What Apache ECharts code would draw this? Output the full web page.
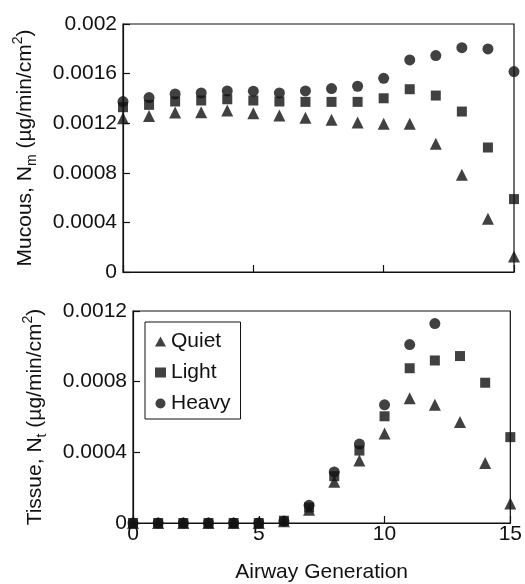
<!DOCTYPE html>
<html lang="en">

<head>
	<meta charset="UTF-8">
	<script src="https://cdn.jsdelivr.net/npm/echarts@6/dist/echarts.min.js"></script>
	<title>Airway deposition</title>
	<style>
		body { margin: 0; background: #fff; }
	</style>
</head>

<body>
	<div id="main" style="width: 525px;height:584px;"></div>

	<script>
		// airway generations 0..15
		var generations = [0, 1, 2, 3, 4, 5, 6, 7, 8, 9, 10, 11, 12, 13, 14, 15];

		// mucous flux N_m (µg/min/cm2)
		var mucousQuiet = [0.00124, 0.001259, 0.001286, 0.001289, 0.001302, 0.001281, 0.001262, 0.001243, 0.001227, 0.001205, 0.001195, 0.001195, 0.001034, 0.000784, 0.00043, 0.000126];
		var mucousLight = [0.001329, 0.001348, 0.001375, 0.001383, 0.001393, 0.001383, 0.001375, 0.001372, 0.001372, 0.001372, 0.001401, 0.001474, 0.001423, 0.001294, 0.001004, 0.000588];
		var mucousHeavy = [0.001374, 0.001407, 0.001436, 0.001444, 0.00146, 0.001458, 0.001444, 0.00146, 0.001479, 0.001498, 0.001562, 0.00171, 0.001745, 0.001809, 0.001799, 0.001616];

		// tissue flux N_t (µg/min/cm2); heavy is off scale after generation 12
		var tissueQuiet = [0, 0, 0, 0, 0, 0, 0.00001, 0.0000745, 0.000233, 0.000354, 0.000507, 0.000706, 0.000669, 0.000572, 0.000339, 0.00011];
		var tissueLight = [0, 0, 0, 0, 0, 0, 0.000013, 0.0000876, 0.000265, 0.00041, 0.000604, 0.000876, 0.00092, 0.000945, 0.000794, 0.000486];
		var tissueHeavy = [0, 0, 0, 0, 0, 0, 0.00001, 0.0001, 0.000289, 0.000447, 0.000669, 0.00101, 0.001129];

		var xTicks = [0, 5, 10, 15];
		var mucousTicks = [0, 0.0004, 0.0008, 0.0012, 0.0016, 0.002];
		var tissueTicks = [0, 0.0004, 0.0008, 0.0012];

		var seriesNames = ['Quiet', 'Light', 'Heavy'];
		var symbols = ['triangle', 'rect', 'circle'];

		var FONT = '"Liberation Sans", Arial, sans-serif';
		var INK = '#111';

		function pairs(values) {
			return values.map(function (v, i) { return [generations[i], v]; });
		}

		function fmt(v) {
			return v === 0 ? '0' : String(+v.toFixed(4));
		}

		var nameStyle = {
			fontFamily: FONT,
			fontSize: 21,
			color: INK,
			lineHeight: 28,
			rich: {
				sub: { fontFamily: FONT, fontSize: 14, lineHeight: 14, verticalAlign: 'bottom', color: INK },
				sup: { fontFamily: FONT, fontSize: 14, lineHeight: 14, verticalAlign: 'top', color: INK }
			}
		};

		function xAxis(gridIndex, showLabels) {
			return {
				type: 'value',
				gridIndex: gridIndex,
				min: xTicks[0],
				max: xTicks[xTicks.length - 1],
				interval: 5,
				name: showLabels ? 'Airway Generation' : '',
				nameLocation: 'middle',
				nameGap: 39,
				nameTextStyle: { fontFamily: FONT, fontSize: 21, color: INK },
				axisLine: { lineStyle: { color: INK, width: 1.2 } },
				axisTick: { inside: true, length: 7, lineStyle: { color: INK, width: 1.2 } },
				axisLabel: { show: showLabels, margin: 1, fontFamily: FONT, fontSize: 21, color: INK },
				splitLine: { show: false }
			};
		}

		function yAxis(gridIndex, ticks, name, gap) {
			return {
				type: 'value',
				gridIndex: gridIndex,
				min: ticks[0],
				max: ticks[ticks.length - 1],
				interval: 0.0004,
				name: name,
				nameLocation: 'middle',
				nameRotate: 90,
				nameGap: gap,
				nameTextStyle: nameStyle,
				axisLine: { lineStyle: { color: INK, width: 1.2 } },
				axisTick: { inside: true, length: 7, lineStyle: { color: INK, width: 1.2 } },
				axisLabel: { margin: 6, fontFamily: FONT, fontSize: 21, color: INK, formatter: fmt },
				splitLine: { show: false }
			};
		}

		function scatter(name, idx, values, symbol) {
			return {
				name: name,
				type: 'scatter',
				xAxisIndex: idx,
				yAxisIndex: idx,
				symbol: symbol,
				symbolSize: symbol === 'triangle' ? 12 : (symbol === 'rect' ? 10 : 11),
				itemStyle: { color: INK },
				data: pairs(values)
			};
		}

		var chart = echarts.init(document.getElementById('main'));

		chart.setOption({
			animation: false,
			backgroundColor: '#fff',
			grid: [
				{ left: 123, right: 11, top: 24, height: 248, show: true, borderColor: INK, borderWidth: 1.2 },
				{ left: 133, right: 11, top: 311, height: 216, show: true, borderColor: INK, borderWidth: 1.2 }
			],
			legend: {
				left: 145,
				top: 322,
				orient: 'vertical',
				itemGap: 10,
				itemWidth: 11,
				itemHeight: 10,
				padding: [9, 10, 5, 10],
				borderColor: INK,
				borderWidth: 1,
				textStyle: { fontFamily: FONT, fontSize: 21, color: INK },
				data: seriesNames.map(function (n, i) { return { name: n, icon: symbols[i] }; })
			},
			xAxis: [xAxis(0, false), xAxis(1, true)],
			yAxis: [
				yAxis(0, mucousTicks, 'Mucous, N{sub|m} (µg/min/cm{sup|2})', 84),
				yAxis(1, tissueTicks, 'Tissue, N{sub|t} (µg/min/cm{sup|2})', 84)
			],
			series: [
				scatter('Heavy', 0, mucousHeavy, 'circle'),
				scatter('Light', 0, mucousLight, 'rect'),
				scatter('Quiet', 0, mucousQuiet, 'triangle'),
				scatter('Heavy', 1, tissueHeavy, 'circle'),
				scatter('Light', 1, tissueLight, 'rect'),
				scatter('Quiet', 1, tissueQuiet, 'triangle')
			]
		});
	</script>
</body>

</html>
